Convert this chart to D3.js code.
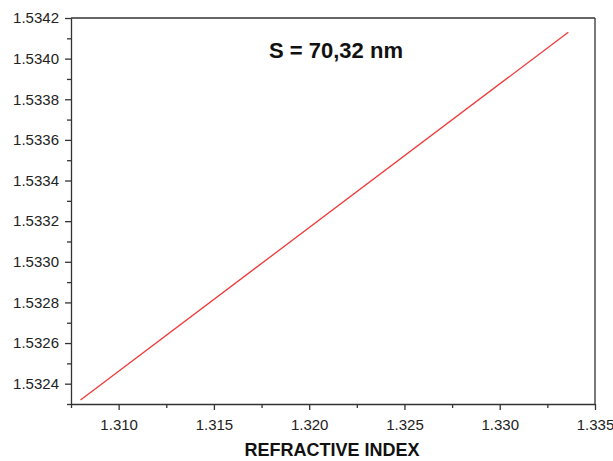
<!DOCTYPE html>
<html><head><meta charset="utf-8">
<script src="https://cdn.jsdelivr.net/npm/d3@7/dist/d3.min.js"></script>
<style>body{margin:0;background:#fff}</style>
</head><body><svg id="c" width="613" height="461"></svg>
<script>
const xValues = [1.3080, 1.3336];
const yValues = [1.53232, 1.53413];
const xMajorTicks = [1.310, 1.315, 1.320, 1.325, 1.330, 1.335];
const yMajorTicks = [1.5324, 1.5326, 1.5328, 1.5330, 1.5332, 1.5334, 1.5336, 1.5338, 1.5340, 1.5342];
const xMinorTicks = [1.3075, 1.3125, 1.3175, 1.3225, 1.3275, 1.3325];
const yMinorTicks = [1.5323, 1.5325, 1.5327, 1.5329, 1.5331, 1.5333, 1.5335, 1.5337, 1.5339, 1.5341];
const xTitle = "REFRACTIVE INDEX";
const annotation = "S = 70,32 nm";

const svg = d3.select("#c");
const L = 71, R = 595, T = 18, B = 404;
const x = d3.scaleLinear().domain([1.3075, 1.335]).range([L, R]);
const y = d3.scaleLinear().domain([1.5323, 1.5342]).range([B, T]);
const axisColor = "#333";
const font = "'Liberation Sans', Arial, sans-serif";

// frame top & right
svg.append("line").attr("x1", L).attr("x2", R).attr("y1", T).attr("y2", T).attr("stroke", axisColor).attr("stroke-width", 1.3);
svg.append("line").attr("x1", R).attr("x2", R).attr("y1", T).attr("y2", B).attr("stroke", axisColor).attr("stroke-width", 1.3);

// y axis
svg.append("g").attr("transform", `translate(${L},0)`)
  .call(d3.axisLeft(y).tickValues(yMajorTicks).tickFormat(d3.format(".4f")).tickSize(6).tickPadding(6).tickSizeOuter(0));
svg.append("g").attr("transform", `translate(${L},0)`)
  .call(d3.axisLeft(y).tickValues(yMinorTicks).tickFormat("").tickSize(4).tickSizeOuter(0))
  .select(".domain").remove();
// x axis
svg.append("g").attr("transform", `translate(0,${B})`)
  .call(d3.axisBottom(x).tickValues(xMajorTicks).tickFormat(d3.format(".3f")).tickSize(6).tickPadding(9).tickSizeOuter(0));
svg.append("g").attr("transform", `translate(0,${B})`)
  .call(d3.axisBottom(x).tickValues(xMinorTicks).tickFormat("").tickSize(4).tickSizeOuter(0))
  .select(".domain").remove();

svg.selectAll(".domain").attr("stroke", axisColor).attr("stroke-width", 1.3);
svg.selectAll(".tick line").attr("stroke", axisColor).attr("stroke-width", 1.3);
svg.selectAll(".tick text").attr("font-family", font).attr("font-size", 15).attr("fill", "#222");

// line
svg.append("path")
  .datum(xValues.map((v, i) => [v, yValues[i]]))
  .attr("d", d3.line().x(d => x(d[0])).y(d => y(d[1])))
  .attr("fill", "none").attr("stroke", "#f03a3a").attr("stroke-width", 1.3);

// titles
svg.append("text").attr("x", 332).attr("y", 456).attr("text-anchor", "middle")
  .attr("font-family", font).attr("font-weight", "bold").attr("font-size", 18).attr("fill", "#111").text(xTitle);
svg.append("text").attr("x", 336).attr("y", 58).attr("text-anchor", "middle")
  .attr("font-family", font).attr("font-weight", "bold").attr("font-size", 22).attr("fill", "#111").text(annotation);
</script></body></html>
